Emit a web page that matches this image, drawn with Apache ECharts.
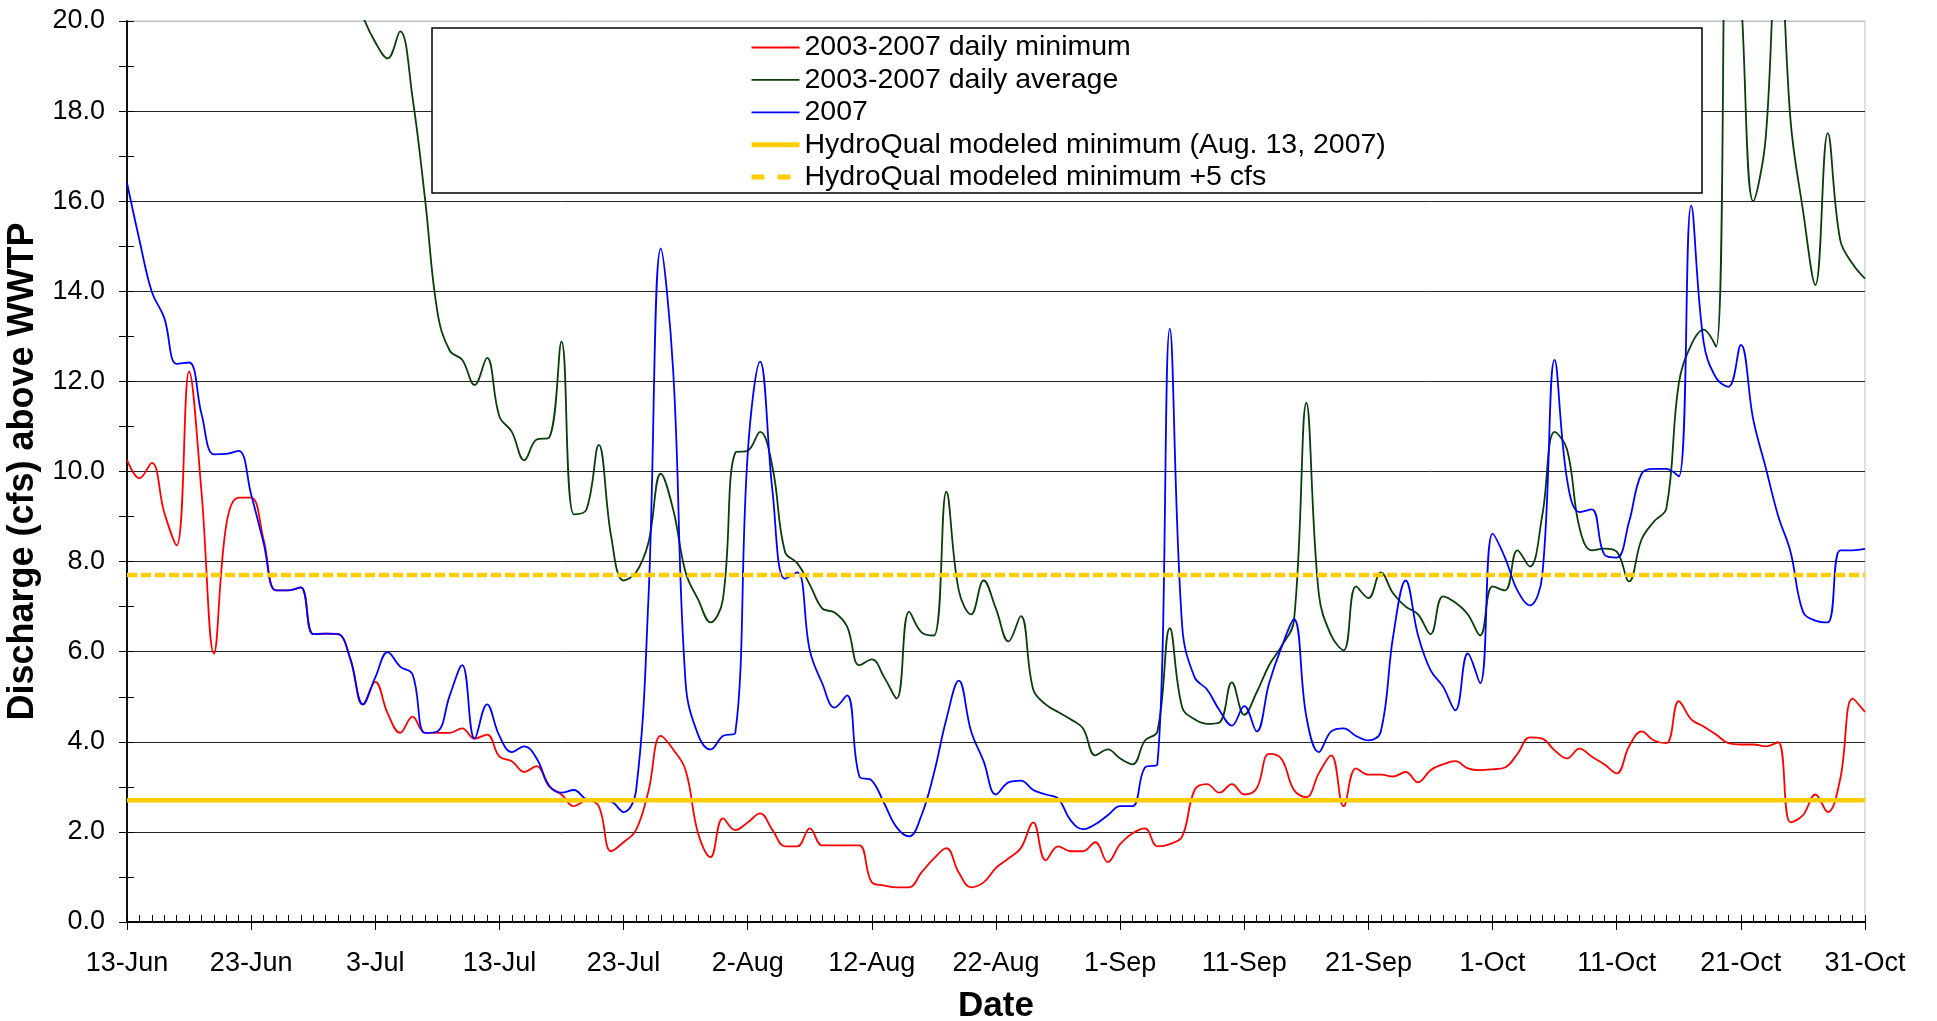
<!DOCTYPE html>
<html>
<head>
<meta charset="utf-8">
<script src="https://cdn.jsdelivr.net/npm/echarts@6/dist/echarts.min.js"></script>
<style>
html,body{margin:0;padding:0;background:#fff;}
#chart{width:1937px;height:1021px;}
</style>
</head>
<body>
<div id="chart"></div>
<script>
// ---- categories (daily, 13-Jun to 31-Oct) ----
const dates = [
'13-Jun','14-Jun','15-Jun','16-Jun','17-Jun','18-Jun','19-Jun','20-Jun','21-Jun','22-Jun','23-Jun','24-Jun','25-Jun','26-Jun','27-Jun','28-Jun','29-Jun','30-Jun',
'1-Jul','2-Jul','3-Jul','4-Jul','5-Jul','6-Jul','7-Jul','8-Jul','9-Jul','10-Jul','11-Jul','12-Jul','13-Jul','14-Jul','15-Jul','16-Jul','17-Jul','18-Jul','19-Jul','20-Jul','21-Jul','22-Jul','23-Jul','24-Jul','25-Jul','26-Jul','27-Jul','28-Jul','29-Jul','30-Jul','31-Jul',
'1-Aug','2-Aug','3-Aug','4-Aug','5-Aug','6-Aug','7-Aug','8-Aug','9-Aug','10-Aug','11-Aug','12-Aug','13-Aug','14-Aug','15-Aug','16-Aug','17-Aug','18-Aug','19-Aug','20-Aug','21-Aug','22-Aug','23-Aug','24-Aug','25-Aug','26-Aug','27-Aug','28-Aug','29-Aug','30-Aug','31-Aug',
'1-Sep','2-Sep','3-Sep','4-Sep','5-Sep','6-Sep','7-Sep','8-Sep','9-Sep','10-Sep','11-Sep','12-Sep','13-Sep','14-Sep','15-Sep','16-Sep','17-Sep','18-Sep','19-Sep','20-Sep','21-Sep','22-Sep','23-Sep','24-Sep','25-Sep','26-Sep','27-Sep','28-Sep','29-Sep','30-Sep',
'1-Oct','2-Oct','3-Oct','4-Oct','5-Oct','6-Oct','7-Oct','8-Oct','9-Oct','10-Oct','11-Oct','12-Oct','13-Oct','14-Oct','15-Oct','16-Oct','17-Oct','18-Oct','19-Oct','20-Oct','21-Oct','22-Oct','23-Oct','24-Oct','25-Oct','26-Oct','27-Oct','28-Oct','29-Oct','30-Oct','31-Oct'
];

// ---- series values (cfs) ----
const dailyMin = [
10.26,9.85,10.19,9.09,8.36,12.22,9.55,5.96,8.82,9.42,
9.42,8.49,7.36,7.36,7.43,6.39,6.40,6.39,5.83,4.83,
5.33,4.63,4.20,4.56,4.20,4.20,4.20,4.30,4.07,4.16,
3.67,3.57,3.33,3.46,3.01,2.83,2.57,2.70,2.57,1.57,
1.77,2.04,2.90,4.13,3.83,3.37,1.97,1.44,2.30,2.04,
2.21,2.41,2.04,1.68,1.68,2.08,1.70,1.70,1.70,1.70,
0.88,0.81,0.77,0.77,1.10,1.41,1.64,1.10,0.77,0.88,
1.20,1.41,1.64,2.21,1.37,1.68,1.57,1.57,1.77,1.33,
1.73,1.97,2.08,1.68,1.73,1.90,2.93,3.06,2.87,3.06,
2.83,2.97,3.73,3.62,2.93,2.77,3.30,3.70,2.57,3.41,
3.27,3.27,3.23,3.33,3.10,3.37,3.50,3.57,3.41,3.37,
3.39,3.43,3.73,4.10,4.07,3.81,3.63,3.85,3.67,3.50,
3.30,3.90,4.23,4.03,3.97,4.90,4.50,4.34,4.16,3.97,
3.94,3.94,3.90,3.99,2.21,2.37,2.83,2.44,3.17,4.96,
4.66
];

const dailyAvg = [
27.5,26.8,28.1,26.2,25.4,27.0,25.1,24.3,23.6,24.4,
23.0,22.4,23.1,22.0,21.6,22.3,21.5,21.2,20.9,20.1,
19.53,19.17,19.77,18.30,16.07,13.55,12.68,12.48,11.92,12.52,
11.22,10.88,10.25,10.71,10.75,12.88,9.05,9.15,10.59,8.56,
7.58,7.76,8.42,9.95,9.15,7.76,7.16,6.65,7.16,10.42,
10.46,10.88,10.09,8.22,7.96,7.49,6.96,6.87,6.56,5.70,
5.83,5.43,4.96,6.89,6.43,6.36,9.55,7.36,6.83,7.58,
6.95,6.23,6.79,5.16,4.83,4.66,4.50,4.30,3.70,3.83,
3.63,3.50,4.03,4.23,6.52,4.76,4.50,4.40,4.43,5.32,
4.60,5.10,5.70,6.12,6.69,11.52,7.29,6.36,6.03,7.45,
7.19,7.76,7.29,7.00,6.83,6.39,7.23,7.09,6.83,6.36,
7.45,7.36,8.25,7.89,9.02,10.88,10.49,8.75,8.25,8.29,
8.22,7.56,8.49,8.89,9.18,11.95,12.81,13.15,12.77,24.0,
20.6,16.0,17.4,22.5,17.8,15.8,14.14,17.51,15.14,14.61,
14.28
];

const flow2007 = [
16.41,15.14,13.99,13.41,12.39,12.42,11.28,10.38,10.39,10.46,
9.49,8.42,7.36,7.36,7.43,6.39,6.40,6.39,5.83,4.83,
5.43,5.99,5.67,5.50,4.20,4.23,5.03,5.70,4.07,4.83,
4.13,3.77,3.90,3.63,3.03,2.87,2.93,2.73,2.70,2.67,
2.44,2.90,7.16,14.95,12.22,5.30,4.16,3.83,4.13,4.20,
10.40,12.44,9.55,7.62,7.76,6.03,5.30,4.76,5.03,3.23,
3.14,2.63,2.10,1.90,2.37,3.30,4.50,5.36,4.23,3.57,
2.83,3.10,3.14,2.93,2.83,2.74,2.26,2.06,2.17,2.37,
2.57,2.57,3.43,3.50,13.17,6.56,5.43,5.16,4.70,4.36,
4.79,4.23,5.30,6.10,6.72,4.56,3.77,4.23,4.30,4.13,
4.03,4.23,6.36,7.58,6.36,5.59,5.23,4.70,5.96,5.30,
8.62,8.09,7.36,7.03,7.69,12.48,9.82,9.10,9.16,8.16,
8.09,8.89,9.95,10.06,10.06,9.89,15.90,12.88,12.08,11.88,
12.81,11.15,10.09,9.02,8.22,6.89,6.69,6.65,8.25,8.25,
8.28
];

// HydroQual modeled minimum (Aug. 13, 2007) and +5 cfs
const HQ_MIN = 2.7;
const HQ_MIN_PLUS5 = 7.7;
const hqMin = dates.map(() => HQ_MIN);
const hqMinPlus5 = dates.map(() => HQ_MIN_PLUS5);

// ---- axis tick values ----
const Y_MIN = 0, Y_MAX = 20, Y_STEP = 2;

const seriesNames = [
  '2003-2007 daily minimum',
  '2003-2007 daily average',
  '2007',
  'HydroQual modeled minimum (Aug. 13, 2007)',
  'HydroQual modeled minimum +5 cfs'
];

const FONT = "'Liberation Sans', Arial, Helvetica, sans-serif";
const chart = echarts.init(document.getElementById('chart'), null, {renderer: 'canvas'});

const gridColors = [];
for (let i = 0; i <= (Y_MAX - Y_MIN) / Y_STEP; i++) gridColors.push(i === (Y_MAX - Y_MIN) / Y_STEP ? '#c0c0c0' : '#262626');

const option = {
  animation: false,
  backgroundColor: '#ffffff',
  textStyle: {fontFamily: FONT},
  grid: {left: 127, right: 72, top: 21, bottom: 99, show: true, borderColor: '#c0c0c0', borderWidth: 1,
         backgroundColor: 'transparent', containLabel: false, outerBoundsMode: 'none'},
  graphic: [{
    type: 'rect', z: 3,
    shape: {x: 432, y: 28, width: 1270, height: 165},
    style: {fill: '#ffffff', stroke: '#000000', lineWidth: 1.5}
  }],
  legend: {
    orient: 'vertical', left: 749, top: 33, padding: 0,
    itemWidth: 48, itemHeight: 14, itemGap: 3.4, z: 5,
    selectedMode: false,
    data: [
      {name: seriesNames[0], lineStyle: {width: 1.8}},
      {name: seriesNames[1], lineStyle: {width: 1.8}},
      {name: seriesNames[2], lineStyle: {width: 1.8}},
      {name: seriesNames[3], lineStyle: {width: 5}},
      {name: seriesNames[4], lineStyle: {width: 5, type: [13, 13]}}
    ],
    itemStyle: {opacity: 0},
    textStyle: {fontFamily: FONT, fontSize: 28.5, color: '#000', lineHeight: 28}
  },
  xAxis: [
    {
      type: 'category', data: dates, boundaryGap: false,
      axisLine: {show: true, lineStyle: {color: '#000', width: 1.5}},
      axisTick: {show: true, interval: 0, inside: true, length: 7, lineStyle: {color: '#000', width: 1}},
      axisLabel: {show: false},
      splitLine: {show: false}
    },
    {
      type: 'category', data: dates, boundaryGap: false, position: 'bottom',
      axisLine: {show: true, lineStyle: {color: '#000', width: 1.5}},
      axisTick: {show: true, interval: 9, inside: false, length: 8, lineStyle: {color: '#000', width: 1}},
      axisLabel: {show: true, interval: 9, fontSize: 27, color: '#000', margin: 28, fontFamily: FONT},
      splitLine: {show: false},
      name: 'Date', nameLocation: 'middle', nameGap: 67,
      nameTextStyle: {fontSize: 35, fontWeight: 'bold', color: '#000', fontFamily: FONT}
    }
  ],
  yAxis: [
    {
      type: 'value', min: Y_MIN, max: Y_MAX, interval: Y_STEP,
      axisLine: {show: true, lineStyle: {color: '#000', width: 1.5}},
      axisTick: {show: true, inside: false, length: 8, lineStyle: {color: '#000', width: 1}},
      minorTick: {show: true, splitNumber: 2, length: 8, lineStyle: {color: '#000', width: 1}},
      axisLabel: {fontSize: 27, color: '#000', margin: 22, fontFamily: FONT, formatter: v => v.toFixed(1)},
      splitLine: {show: true, lineStyle: {color: gridColors, width: 1}},
      name: 'Discharge (cfs) above WWTP', nameLocation: 'middle', nameGap: 64,
      nameTextStyle: {fontSize: 36, fontWeight: 'bold', color: '#000', fontFamily: FONT}
    },
    {
      type: 'value', min: Y_MIN, max: Y_MAX, interval: Y_STEP, position: 'left',
      axisLine: {show: true, lineStyle: {color: '#000', width: 1.5}},
      axisTick: {show: true, inside: true, length: 7, lineStyle: {color: '#000', width: 1}},
      minorTick: {show: true, splitNumber: 2, length: 7, lineStyle: {color: '#000', width: 1}},
      axisLabel: {show: false},
      splitLine: {show: false}
    }
  ],
  series: [
    {name: seriesNames[0], type: 'line', data: dailyMin, symbol: 'none', smooth: 0.4, clip: true,
     lineStyle: {color: '#ff0000', width: 1.8}, itemStyle: {color: '#ff0000'}},
    {name: seriesNames[1], type: 'line', data: dailyAvg, symbol: 'none', smooth: 0.4, clip: true,
     lineStyle: {color: '#0a3d0a', width: 1.8}, itemStyle: {color: '#0a3d0a'}},
    {name: seriesNames[2], type: 'line', data: flow2007, symbol: 'none', smooth: 0.4, clip: true,
     lineStyle: {color: '#0000ff', width: 1.8}, itemStyle: {color: '#0000ff'}},
    {name: seriesNames[3], type: 'line', data: hqMin, symbol: 'none', clip: true,
     lineStyle: {color: '#ffcc00', width: 4.5}, itemStyle: {color: '#ffcc00'}},
    {name: seriesNames[4], type: 'line', data: hqMinPlus5, symbol: 'none', clip: true,
     lineStyle: {color: '#ffcc00', width: 4.5, type: [10, 4]}, itemStyle: {color: '#ffcc00'}}
  ]
};
chart.setOption(option);
</script>
</body>
</html>
